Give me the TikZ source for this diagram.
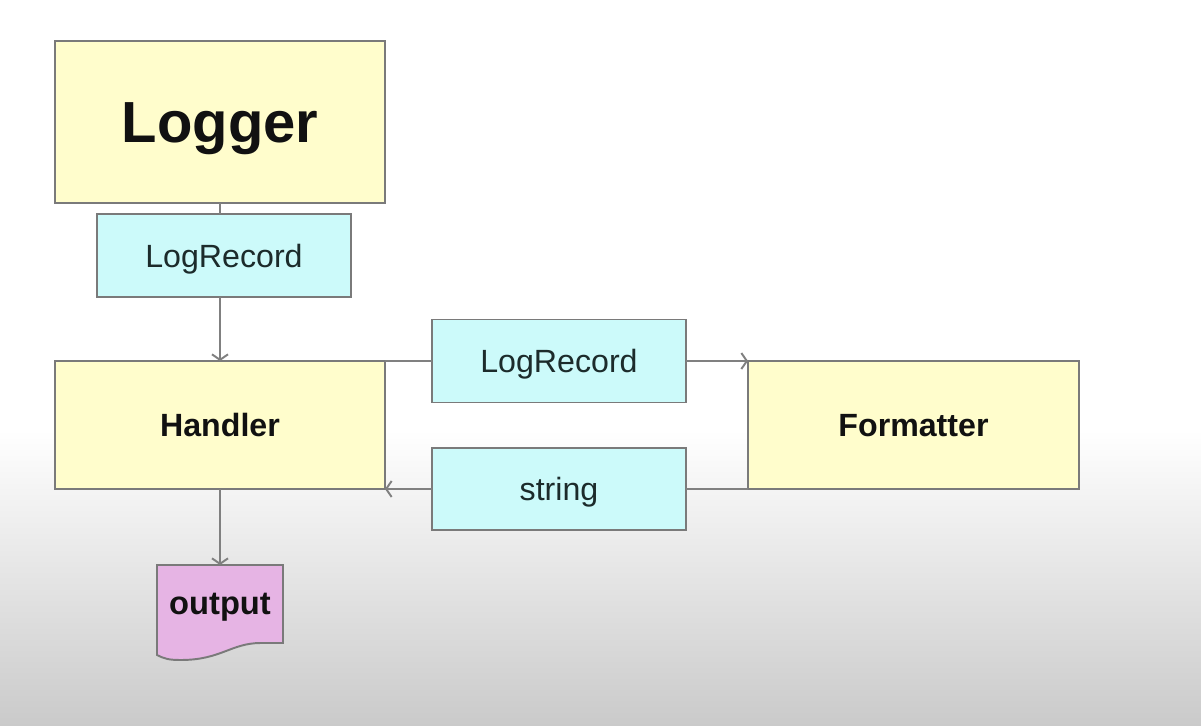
\documentclass[tikz,border=0pt]{standalone}
\usepackage{fontspec}
\setmainfont{Liberation Sans}
\usepackage{tikz}
\usetikzlibrary{arrows.meta,positioning,calc}
\definecolor{ink}{HTML}{111111}
\definecolor{ink2}{HTML}{1C2B2B}
\definecolor{edge}{HTML}{7A7A7A}
\definecolor{wire}{HTML}{808080}
\definecolor{cyellow}{HTML}{FFFDCC}
\definecolor{ccyan}{HTML}{CCFAFA}
\definecolor{cpurple}{HTML}{E6B4E4}
\definecolor{floor}{HTML}{CACACA}
\tikzset{
  base/.style={inner sep=0pt, outer sep=0pt, align=center, draw=edge, line width=1.1pt, text height=13.1pt, text depth=0pt},
  big/.style={base, fill=cyellow, text=ink, font=\fontsize{18.3}{22}\selectfont\bfseries},
  msg/.style={base, fill=ccyan, text=ink2, minimum width=5.08cm, font=\fontsize{18.3}{22}\selectfont},
  arr/.style={-{Straight Barb[length=1.1mm,width=3.2mm]}, line width=1.1pt, draw=wire},
  link/.style={line width=1.1pt, draw=wire},
}

\begin{document}
\begin{tikzpicture}[x=0.02cm,y=-0.02cm]
    % page and floor shading
    \useasboundingbox (0,0) rectangle (1201,726);
    \fill[white] (0,0) rectangle (1201,430);
    \shade[top color=white, bottom color=floor] (0,430) rectangle (1201,726);

    \node[big, minimum width=6.6cm, minimum height=3.24cm, text height=23.6pt, font=\fontsize{33}{40}\selectfont\bfseries] (logger) at (220,122) {Logger};
    \node[msg, minimum height=1.66cm] (rec1) at (224,255.5) {LogRecord};
    \node[big, minimum width=6.6cm, minimum height=2.56cm] (handler) at (220,425) {Handler};
    \node[msg, minimum height=1.66cm] (rec2) at (559,361) {LogRecord};
    \node[big, minimum width=6.62cm, minimum height=2.56cm] (fmt) at (913.5,425) {Formatter};
    \node[msg, minimum height=1.64cm] (str) at (559,489) {string};

    % output document
    \node[minimum width=2.52cm, minimum height=1.56cm, inner sep=0pt, outer sep=0pt] (out) at (220,604) {};
    \draw[fill=cpurple, draw=edge, line width=1.1pt] (out.north west) -- (out.north east) -- (out.south east) -- ++(-22,0)
      .. controls +(-30,0) and +(40,0) .. ++(-80,17)
      .. controls +(-12,0) and +(8,4) .. ($(out.south west)+(0,12)$) -- cycle;
    \node[text=ink, font=\fontsize{18.6}{22}\selectfont\bfseries] at ($(out.center)+(0,3)$) {output};

    \draw[link] (logger.south) -- (logger.south |- rec1.north);
    \draw[arr] (logger.south |- rec1.south) -- (handler.north);
    \draw[link] (handler.north east) -- (rec2.west);
    \draw[arr] (rec2.east) -- (fmt.north west);
    \draw[link] (fmt.south west) -- (str.east);
    \draw[arr] (str.west) -- (handler.south east);
    \draw[arr] (handler.south) -- (out.north);
  \end{tikzpicture}
\end{document}
